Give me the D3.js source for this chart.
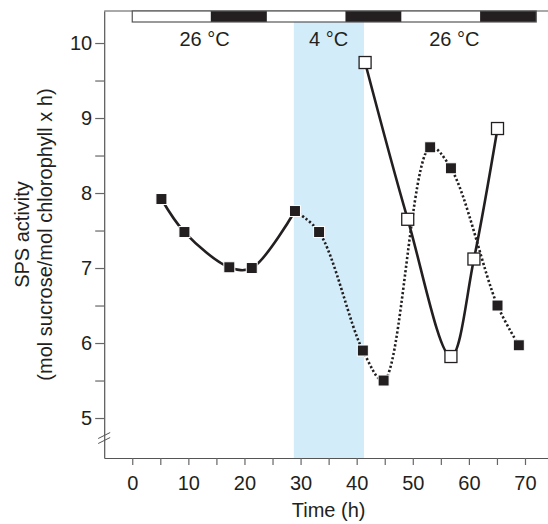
<!DOCTYPE html>
<html>
<head>
<meta charset="utf-8">
<script src="https://cdn.jsdelivr.net/npm/d3@7/dist/d3.min.js"></script>
<style>
  body { margin: 0; background: #fff; }
  svg { display: block; font-family: "Liberation Sans", Arial, Helvetica, sans-serif; }
</style>
</head>
<body>
<svg id="chart" width="548" height="524"></svg>
<script>
// ---- data ----
const filledTimes = [5.2, 9.3, 17.3, 21.3, 29.0, 33.3, 41.1, 44.8, 53.1, 56.8, 65.1, 68.9];
const filledValues = [7.92, 7.48, 7.01, 7.0, 7.76, 7.48, 5.90, 5.50, 8.61, 8.33, 6.50, 5.97];
const openTimes = [41.5, 49.1, 56.8, 60.9, 65.1];
const openValues = [9.74, 7.65, 5.82, 7.12, 8.86];
const xTickValues = [0, 5, 10, 15, 20, 25, 30, 35, 40, 45, 50, 55, 60, 65, 70];
const yTickValues = [5, 5.5, 6, 6.5, 7, 7.5, 8, 8.5, 9, 9.5, 10];
const lightDarkStarts = [0, 14, 24, 38, 48, 62];
const lightDarkEnds = [14, 24, 38, 48, 62, 72];
const lightDarkFill = ["light", "dark", "light", "dark", "light", "dark"];
const coldStart = 28.8, coldEnd = 41.3;
const tempLabels = ["26 °C", "4 °C", "26 °C"];
const tempLabelTimes = [12.9, 35, 57.4];
const solidCount = 5; // first 5 filled points joined by a solid line

const ink = "#231f20";
const FS = 20;
const svg = d3.select("#chart");

const x = d3.scaleLinear().domain([-5, 74.1]).range([104.2, 548]);
const y = d3.scaleLinear().domain([4.467, 10.427]).range([458, 11]);

// cold period shading
svg.append("rect")
  .attr("x", x(coldStart)).attr("y", 22)
  .attr("width", x(coldEnd) - x(coldStart)).attr("height", y(4.467) - 22)
  .attr("fill", "#d3ecf9");

// frame top line
svg.append("line").attr("x1", x(-5)).attr("x2", 548).attr("y1", 11).attr("y2", 11)
  .attr("stroke", "#555").attr("stroke-width", 1.2);

// axes
const xAxis = d3.axisBottom(x).tickValues(xTickValues)
  .tickFormat(d => d % 10 === 0 ? d : "").tickSize(7).tickPadding(11).tickSizeOuter(0);
const gx = svg.append("g").attr("transform", `translate(0,${y(4.467)})`).call(xAxis);
const yAxis = d3.axisLeft(y).tickValues(yTickValues)
  .tickFormat(d => Number.isInteger(d) ? d : "").tickSize(9).tickPadding(3).tickSizeOuter(0);
const gy = svg.append("g").attr("transform", `translate(${x(-5)},0)`).call(yAxis);
[gx, gy].forEach(g => {
  g.select(".domain").attr("stroke", "#555").attr("stroke-width", 1.2);
  g.selectAll(".tick line").attr("stroke", "#666").attr("stroke-width", 1.2);
  g.selectAll(".tick text").attr("fill", ink).attr("font-size", FS)
    .attr("font-family", "'Liberation Sans', Arial, sans-serif");
});

// axis break marks
const bx = x(-5), by = 438;
[-2.5, 2.5].forEach(o => {
  svg.append("line").attr("x1", bx - 6).attr("y1", by + o + 3).attr("x2", bx + 6).attr("y2", by + o - 3)
    .attr("stroke", "#555").attr("stroke-width", 1);
});

// light/dark bar
lightDarkStarts.forEach((s, i) => {
  svg.append("rect").attr("x", x(s)).attr("y", 11)
    .attr("width", x(lightDarkEnds[i]) - x(s)).attr("height", 11)
    .attr("fill", lightDarkFill[i] === "dark" ? ink : "#fff");
});
svg.append("rect").attr("x", x(0)).attr("y", 11)
  .attr("width", x(72) - x(0)).attr("height", 11)
  .attr("fill", "none").attr("stroke", "#555").attr("stroke-width", 1.2);

// temperature labels
tempLabels.forEach((t, i) => {
  svg.append("text").attr("x", x(tempLabelTimes[i])).attr("y", 46)
    .attr("text-anchor", "middle").attr("font-size", FS).attr("fill", ink).text(t);
});

// lines
const filled = filledTimes.map((t, i) => ({ t, v: filledValues[i] }));
const open = openTimes.map((t, i) => ({ t, v: openValues[i] }));
const line = d3.line().x(d => x(d.t)).y(d => y(d.v)).curve(d3.curveCatmullRom.alpha(0.5));

svg.append("path").datum(filled.slice(0, solidCount)).attr("d", line)
  .attr("fill", "none").attr("stroke", ink).attr("stroke-width", 2.6);
svg.append("path").datum(filled.slice(solidCount - 1)).attr("d", line)
  .attr("fill", "none").attr("stroke", ink).attr("stroke-width", 2.6)
  .attr("stroke-dasharray", "2.2,2.2");
svg.append("path").datum(open).attr("d", line)
  .attr("fill", "none").attr("stroke", ink).attr("stroke-width", 2.6);

// markers
const fs = 11;
svg.append("g").selectAll("rect").data(filled).join("rect")
  .attr("x", d => x(d.t) - fs / 2).attr("y", d => y(d.v) - fs / 2)
  .attr("width", fs).attr("height", fs)
  .attr("fill", ink).attr("stroke", "#fff").attr("stroke-width", 1);
const os = 12;
svg.append("g").selectAll("rect").data(open).join("rect")
  .attr("x", d => x(d.t) - os / 2).attr("y", d => y(d.v) - os / 2)
  .attr("width", os).attr("height", os)
  .attr("fill", "#fff").attr("stroke", ink).attr("stroke-width", 1.3);

// axis titles
svg.append("text").attr("x", x(35)).attr("y", 517).attr("text-anchor", "middle")
  .attr("font-size", FS).attr("fill", ink).text("Time (h)");
const yl = svg.append("text").attr("transform", `translate(29,234.5) rotate(-90)`)
  .attr("text-anchor", "middle").attr("font-size", FS).attr("fill", ink);
yl.append("tspan").attr("x", 0).attr("dy", 0).text("SPS activity");
yl.append("tspan").attr("x", 0).attr("dy", 23).text("(mol sucrose/mol chlorophyll x h)");
</script>
</body>
</html>
